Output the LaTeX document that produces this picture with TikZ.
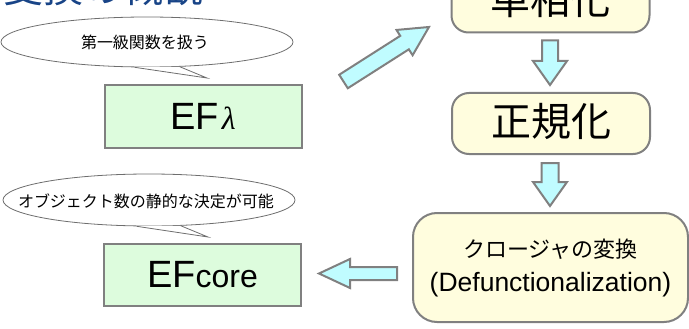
\documentclass[tikz,border=0pt]{standalone}
\usepackage{fontspec}
\setmainfont{Liberation Sans}
\newfontfamily\jp{Noto Sans CJK JP}
\newfontfamily\greekserif{Liberation Serif}
\usetikzlibrary{calc,shapes.geometric}

\definecolor{titleblue}{RGB}{24,68,135}
\definecolor{edgegray}{RGB}{128,128,128}
\definecolor{creamfill}{RGB}{255,253,222}
\definecolor{mintfill}{RGB}{221,252,221}
\definecolor{cyanfill}{RGB}{192,252,255}
\definecolor{bubbleline}{RGB}{110,110,110}

\tikzset{
  stagebox/.style={draw=edgegray, line width=2pt, fill=creamfill, rounded corners=17pt,
    inner sep=0pt, minimum width=198pt, minimum height=61pt,
    text height=26pt, text depth=0pt, font=\jp\fontsize{40}{40}\selectfont},
  langbox/.style={draw=edgegray, line width=2pt, fill=mintfill, inner sep=0pt,
    minimum width=197pt, minimum height=62pt},
  bubble/.style={ellipse, draw=bubbleline, line width=0.8pt, fill=white, inner sep=0pt,
    minimum width=292pt, minimum height=50pt},
  bubbletext/.style={inner sep=0pt, font=\jp\fontsize{16}{16}\selectfont},
  bubbletail/.style={draw=bubbleline, line width=0.8pt},
  blk/.style={draw=edgegray, line width=2pt, fill=cyanfill, line join=miter},
}

% block arrow: start, tip, half shaft width, half head width, head length
\newcommand\blkarrow[5]{%
  \coordinate (ba-s) at (#1);
  \coordinate (ba-e) at (#2);
  \coordinate (ba-h) at ($(ba-e)!#5!(ba-s)$);
  \draw[blk] ($(ba-s)!#3!90:(ba-e)$) -- ($(ba-h)!#3!-90:(ba-s)$)
    -- ($(ba-h)!#4!-90:(ba-s)$) -- (ba-e) -- ($(ba-h)!#4!90:(ba-s)$)
    -- ($(ba-h)!#3!90:(ba-s)$) -- ($(ba-s)!#3!-90:(ba-e)$) -- cycle;
}

\begin{document}
\begin{tikzpicture}[x=1pt, y=-1pt]
\useasboundingbox (0,0) rectangle (689,329);
\clip (0,0) rectangle (689,329);

% heading
\node[anchor=base west, inner sep=0pt, text=titleblue, font=\jp\fontsize{40}{40}\selectfont]
  (title) at (3,3) {変換の概観};

% transformation stages
\node[stagebox] (mono) at (550.5,2) {単相化};
\node[stagebox] (norm) at (551,123.5) {正規化};
\node[stagebox, rounded corners=24pt, minimum width=275pt, minimum height=109pt,
  text height=, text depth=, align=center, font=\jp\fontsize{22}{36}\selectfont]
  (defun) at (550.5,267.5)
  {クロージャの変換\\[-2pt]{\fontsize{26.5}{26.5}\selectfont\rmfamily (Defunctionalization)}};

% languages
\node[langbox] (eflam) at (203,116.5)
  {\fontsize{38}{38}\selectfont EF\kern3pt{\greekserif\itshape\fontsize{32}{32}\selectfont λ}};
\node[langbox] (efcore) at (202.5,275)
  {\fontsize{38}{38}\selectfont EF{\fontsize{32}{32}\selectfont core}};

% speech bubbles
\node[bubble] (note1) at (147,42) {};
\coordinate (tip1) at (207,78);
\fill[white] (note1.244) -- (tip1) -- (note1.323) -- cycle;
\draw[bubbletail] (note1.244) -- (tip1) -- (note1.323);
\node[bubbletext] (note1text) at ($(note1.center)+(-2,0)$) {第一級関数を扱う};

\node[bubble, minimum height=52pt] (note2) at (149,200) {};
\coordinate (tip2) at (208,237);
\fill[white] (note2.245) -- (tip2) -- (note2.321) -- cycle;
\draw[bubbletail] (note2.245) -- (tip2) -- (note2.321);
\node[bubbletext] (note2text) at ($(note2.center)+(-3,1)$) {オブジェクト数の静的な決定が可能};

% flow arrows
\coordinate (a1s) at (343.5,81.5);
\coordinate (a1e) at (429,27);
\blkarrow{a1s}{a1e}{8pt}{15pt}{29pt}

\coordinate (a2s) at ($(mono.south)+(-0.5,7)$);
\coordinate (a2e) at ($(norm.north)+(-1,-7)$);
\blkarrow{a2s}{a2e}{8pt}{17pt}{24pt}

\coordinate (a3s) at ($(norm.south)+(-1,8)$);
\coordinate (a3e) at ($(defun.north)+(-0.5,-6)$);
\blkarrow{a3s}{a3e}{8.5pt}{17pt}{24pt}

\coordinate (a4s) at (397,273.5);
\coordinate (a4e) at (319,273.5);
\blkarrow{a4s}{a4e}{6.5pt}{14.5pt}{31pt}
\end{tikzpicture}
\end{document}
